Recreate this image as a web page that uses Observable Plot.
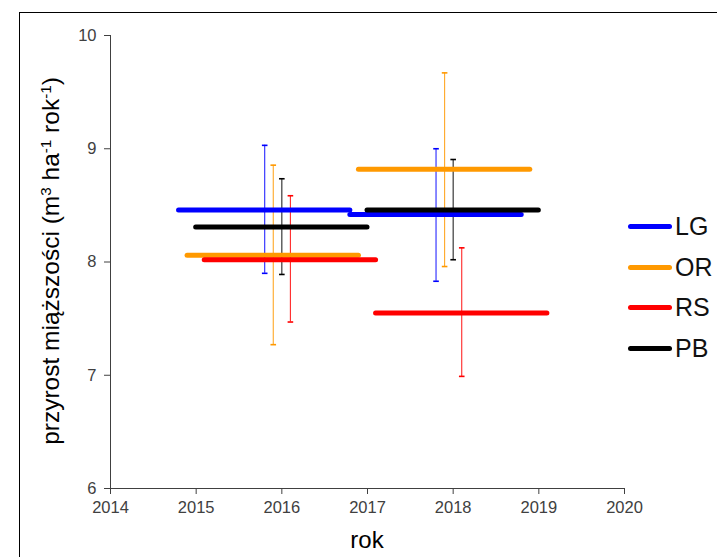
<!DOCTYPE html>
<html>
<head>
<meta charset="utf-8">
<script src="https://cdn.jsdelivr.net/npm/d3@7"></script>
<script src="https://cdn.jsdelivr.net/npm/@observablehq/plot@0.6"></script>
<style>
  body { margin: 0; background: #fff; }
  #wrap { position: relative; width: 717px; height: 557px; overflow: hidden; font-family: "Liberation Sans", Arial, sans-serif; }
  #frame { position: absolute; left: 19px; top: 12px; width: 900px; height: 800px; border-top: 1.5px solid #000; border-left: 1.5px solid #000; }
  #chart { position: absolute; left: 0; top: 0; }
  #ylab { position: absolute; left: -199px; top: 248px; width: 500px; height: 26px; line-height: 26px; font-size: 24.5px; text-align: center; transform: rotate(-90deg); transform-origin: 50% 50%; color: #000; white-space: nowrap; }
  #ylab .s { font-size: 0.62em; position: relative; top: -0.55em; }
  #xlab { position: absolute; left: 267px; top: 528px; width: 200px; font-size: 24px; line-height: 23px; text-align: center; color: #000; }
  #legend { position: absolute; left: 628px; top: 206.8px; }
  .row { display: flex; align-items: center; height: 40.4px; }
  .sw { width: 44px; height: 5px; border-radius: 3px; }
  .lt { margin-left: 3px; font-size: 25px; line-height: 25px; color: #111; }
</style>
</head>
<body>
<div id="wrap">
  <div id="frame"></div>
  <div id="chart"></div>
  <div id="ylab">przyrost miąższości (m<span class="s">3</span> ha<span class="s">-1</span> rok<span class="s">-1</span>)</div>
  <div id="xlab">rok</div>
  <div id="legend"></div>
</div>
<script>
// ---- data ----
const series = ["LG", "OR", "RS", "PB"];
const colors = ["#0000ff", "#ff9900", "#ff0000", "#000000"];
const xTicks = [2014, 2015, 2016, 2017, 2018, 2019, 2020];
const yTicks = [6, 7, 8, 9, 10];
const halfSpan = 1; // each period spans 2 years around its centre
// centre year of each period, per series
const xLG = [2015.8, 2017.8];
const xOR = [2015.9, 2017.9];
const xRS = [2016.1, 2018.1];
const xPB = [2016.0, 2018.0];
// means
const meanLG = [8.46, 8.42];
const meanOR = [8.06, 8.82];
const meanRS = [8.02, 7.55];
const meanPB = [8.31, 8.46];
// error bar lower / upper ends
const loLG = [7.90, 7.83], hiLG = [9.03, 9.00];
const loOR = [7.27, 7.96], hiOR = [8.855, 9.67];
const loRS = [7.47, 6.99], hiRS = [8.585, 8.125];
const loPB = [7.89, 8.02], hiPB = [8.735, 8.905];

const xs = {LG: xLG, OR: xOR, RS: xRS, PB: xPB};
const means = {LG: meanLG, OR: meanOR, RS: meanRS, PB: meanPB};
const los = {LG: loLG, OR: loOR, RS: loRS, PB: loPB};
const his = {LG: hiLG, OR: hiOR, RS: hiRS, PB: hiPB};

const rows = [];
series.forEach((s, i) => {
  xs[s].forEach((x, j) => {
    rows.push({series: s, color: colors[i], x, x1: x - halfSpan, x2: x + halfSpan,
               y: means[s][j], lo: los[s][j], hi: his[s][j]});
  });
});

const capSymbol = {
  draw(ctx, size) {
    const r = Math.sqrt(size / Math.PI);
    ctx.moveTo(-r, 0);
    ctx.lineTo(r, 0);
  }
};

const axisColor = "#404040";
const plot = Plot.plot({
  width: 717,
  height: 557,
  marginLeft: 110,
  marginRight: 93,
  marginTop: 35,
  marginBottom: 69,
  style: {fontFamily: '"Liberation Sans", Arial, sans-serif', fontSize: "16.5px", background: "transparent", overflow: "visible"},
  x: {domain: [2014, 2020]},
  y: {domain: [6, 10]},
  marks: [
    Plot.axisX({ticks: xTicks, tickFormat: d => String(d), tickSize: 6, tickPadding: 6.5, color: axisColor, label: null}),
    Plot.axisY({ticks: yTicks, tickFormat: d => String(d), tickSize: 6, tickPadding: 8, color: axisColor, label: null}),
    Plot.ruleY([6], {stroke: axisColor, strokeWidth: 1}),
    Plot.ruleX([2014], {stroke: axisColor, strokeWidth: 1}),
    // error bars
    Plot.ruleX(rows, {x: "x", y1: "lo", y2: "hi", stroke: "color", strokeWidth: 1.1, strokeOpacity: 0.85}),
    Plot.dot(rows, {x: "x", y: "lo", symbol: capSymbol, r: 2.8, stroke: "color", strokeWidth: 1.6, fill: "none"}),
    Plot.dot(rows, {x: "x", y: "hi", symbol: capSymbol, r: 2.8, stroke: "color", strokeWidth: 1.6, fill: "none"}),
    // period segments
    Plot.ruleY(rows, {x1: "x1", x2: "x2", y: "y", stroke: "color", strokeWidth: 5, strokeLinecap: "round"})
  ]
});
document.getElementById("chart").appendChild(plot);

// legend
const leg = document.getElementById("legend");
series.forEach((s, i) => {
  const row = document.createElement("div");
  row.className = "row";
  const sw = document.createElement("span");
  sw.className = "sw";
  sw.style.background = colors[i];
  const t = document.createElement("span");
  t.className = "lt";
  t.textContent = s;
  row.appendChild(sw);
  row.appendChild(t);
  leg.appendChild(row);
});
</script>
</body>
</html>
